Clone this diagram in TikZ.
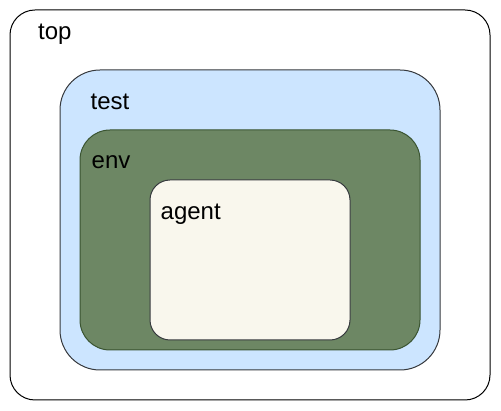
\documentclass[tikz,border=0pt]{standalone}
\usepackage{fontspec}
\setmainfont{Liberation Sans}

\definecolor{testblue}{HTML}{CCE5FF}
\definecolor{envgreen}{HTML}{6D8764}
\definecolor{envline}{HTML}{3A5431}
\definecolor{agentcream}{HTML}{F9F7ED}
\definecolor{boxline}{HTML}{36393D}

\begin{document}
\begin{tikzpicture}[x=1pt,y=-1pt,
  box/.style={draw,rectangle,inner sep=0pt,line width=1pt},
  tag/.style={anchor=base west,inner sep=0pt,font=\fontsize{24}{28}\selectfont}]

\useasboundingbox (0,0) rectangle (501,411);

% Nested containers, outermost first
\node[box, minimum width=480pt, minimum height=390pt, rounded corners=25pt] (top) at (250,205) {};
\node[box, draw=boxline, fill=testblue, minimum width=380pt, minimum height=300pt, rounded corners=40pt] (test) at (250,220) {};
\node[box, draw=envline, fill=envgreen, minimum width=340pt, minimum height=220pt, rounded corners=30pt] (env) at (250,240) {};
\node[box, draw=boxline, fill=agentcream, minimum width=200pt, minimum height=160pt, rounded corners=20pt] (agent) at (250,260) {};

% Labels in the top left corner of each container
\node[tag] (topLabel) at (38,39.5) {top};
\node[tag] (testLabel) at (90.5,110) {test};
\node[tag] (envLabel) at (91.5,168.5) {env};
\node[tag] (agentLabel) at (160.5,219.5) {agent};

\end{tikzpicture}
\end{document}
